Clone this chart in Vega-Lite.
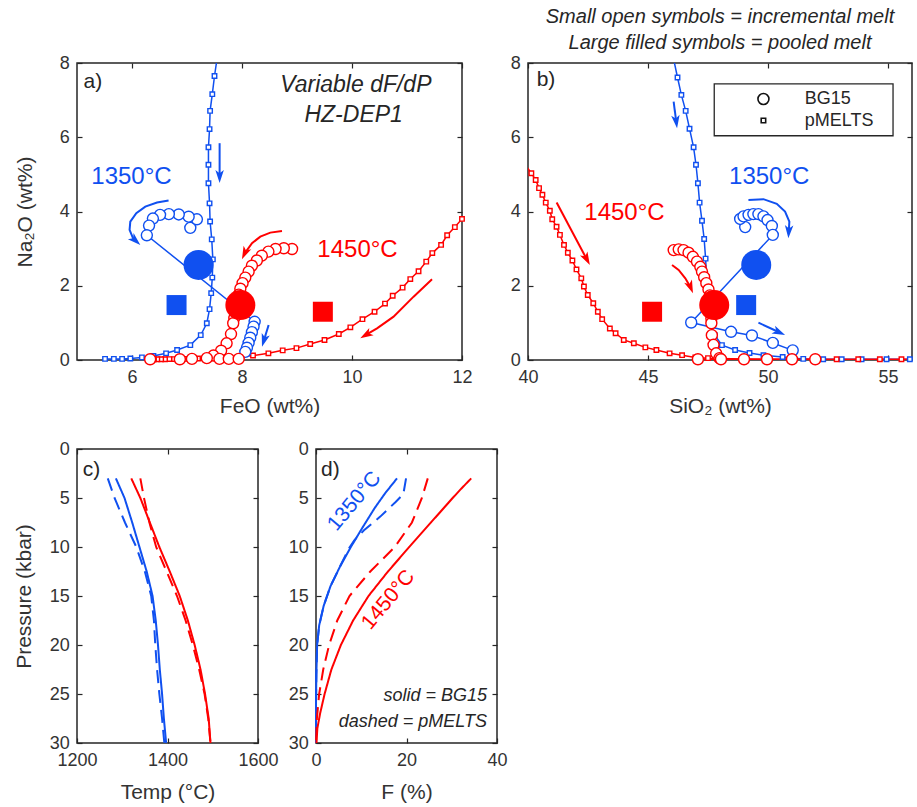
{
 "$schema": "https://vega.github.io/schema/vega-lite/v6.json",
 "padding": {"left": 12, "top": 6, "right": 4, "bottom": 4},
 "config": {
  "font": "Liberation Sans",
  "view": {"stroke": "#262626", "strokeWidth": 1.5},
  "axis": {"grid": false, "domain": false, "tickSize": -5, "tickWidth": 1.2, "tickColor": "#262626", "labelFontSize": 18, "labelColor": "#333333", "labelFlush": false, "labelOverlap": false, "titleFontSize": 21, "titleFontWeight": "normal", "titleColor": "#333333", "titleBaseline": "alphabetic"},
  "axisX": {"labelPadding": 13.5},
  "axisY": {"labelPadding": 12.7}
 },
 "datasets": {
  "inc_a": [
   {"T":"1350","model":"pMELTS","x":5.51,"y":0.03},{"T":"1350","model":"pMELTS","x":5.67,"y":0.03},{"T":"1350","model":"pMELTS","x":5.82,"y":0.03},{"T":"1350","model":"pMELTS","x":5.97,"y":0.04},{"T":"1350","model":"pMELTS","x":6.18,"y":0.07},{"T":"1350","model":"pMELTS","x":6.39,"y":0.11},{"T":"1350","model":"pMELTS","x":6.62,"y":0.18},{"T":"1350","model":"pMELTS","x":6.82,"y":0.27},{"T":"1350","model":"pMELTS","x":7.06,"y":0.40},{"T":"1350","model":"pMELTS","x":7.25,"y":0.67},{"T":"1350","model":"pMELTS","x":7.36,"y":0.99},{"T":"1350","model":"pMELTS","x":7.41,"y":1.37},{"T":"1350","model":"pMELTS","x":7.44,"y":1.80},{"T":"1350","model":"pMELTS","x":7.46,"y":2.22},{"T":"1350","model":"pMELTS","x":7.47,"y":2.71},{"T":"1350","model":"pMELTS","x":7.45,"y":3.25},{"T":"1350","model":"pMELTS","x":7.42,"y":3.73},{"T":"1350","model":"pMELTS","x":7.41,"y":4.22},{"T":"1350","model":"pMELTS","x":7.39,"y":4.76},{"T":"1350","model":"pMELTS","x":7.39,"y":5.26},{"T":"1350","model":"pMELTS","x":7.39,"y":5.73},{"T":"1350","model":"pMELTS","x":7.41,"y":6.22},{"T":"1350","model":"pMELTS","x":7.42,"y":6.71},{"T":"1350","model":"pMELTS","x":7.46,"y":7.16},{"T":"1350","model":"pMELTS","x":7.50,"y":7.65},{"T":"1350","model":"pMELTS","x":7.55,"y":8.15},
   {"T":"1450","model":"pMELTS","x":12.15,"y":4.05},{"T":"1450","model":"pMELTS","x":12.0,"y":3.80},{"T":"1450","model":"pMELTS","x":11.87,"y":3.58},{"T":"1450","model":"pMELTS","x":11.73,"y":3.36},{"T":"1450","model":"pMELTS","x":11.62,"y":3.10},{"T":"1450","model":"pMELTS","x":11.46,"y":2.88},{"T":"1450","model":"pMELTS","x":11.35,"y":2.65},{"T":"1450","model":"pMELTS","x":11.21,"y":2.39},{"T":"1450","model":"pMELTS","x":11.06,"y":2.18},{"T":"1450","model":"pMELTS","x":10.92,"y":1.95},{"T":"1450","model":"pMELTS","x":10.74,"y":1.73},{"T":"1450","model":"pMELTS","x":10.60,"y":1.52},{"T":"1450","model":"pMELTS","x":10.41,"y":1.30},{"T":"1450","model":"pMELTS","x":10.19,"y":1.10},{"T":"1450","model":"pMELTS","x":9.97,"y":0.88},{"T":"1450","model":"pMELTS","x":9.76,"y":0.70},{"T":"1450","model":"pMELTS","x":9.50,"y":0.54},{"T":"1450","model":"pMELTS","x":9.24,"y":0.43},{"T":"1450","model":"pMELTS","x":8.99,"y":0.32},{"T":"1450","model":"pMELTS","x":8.74,"y":0.26},{"T":"1450","model":"pMELTS","x":8.48,"y":0.18},{"T":"1450","model":"pMELTS","x":8.20,"y":0.12},{"T":"1450","model":"pMELTS","x":7.95,"y":0.09},{"T":"1450","model":"pMELTS","x":7.72,"y":0.07},{"T":"1450","model":"pMELTS","x":7.52,"y":0.06},{"T":"1450","model":"pMELTS","x":7.35,"y":0.05},{"T":"1450","model":"pMELTS","x":7.20,"y":0.04},{"T":"1450","model":"pMELTS","x":7.07,"y":0.035},{"T":"1450","model":"pMELTS","x":6.95,"y":0.03},{"T":"1450","model":"pMELTS","x":6.85,"y":0.03},{"T":"1450","model":"pMELTS","x":6.76,"y":0.025},{"T":"1450","model":"pMELTS","x":6.68,"y":0.025},{"T":"1450","model":"pMELTS","x":6.60,"y":0.02},{"T":"1450","model":"pMELTS","x":6.53,"y":0.02},{"T":"1450","model":"pMELTS","x":6.46,"y":0.02},{"T":"1450","model":"pMELTS","x":6.40,"y":0.02},{"T":"1450","model":"pMELTS","x":6.34,"y":0.02},
   {"T":"1350","model":"BG15","x":7.06,"y":3.56},{"T":"1350","model":"BG15","x":7.18,"y":3.79},{"T":"1350","model":"BG15","x":7.03,"y":3.86},{"T":"1350","model":"BG15","x":6.85,"y":3.92},{"T":"1350","model":"BG15","x":6.67,"y":3.93},{"T":"1350","model":"BG15","x":6.51,"y":3.91},{"T":"1350","model":"BG15","x":6.38,"y":3.81},{"T":"1350","model":"BG15","x":6.31,"y":3.62},{"T":"1350","model":"BG15","x":6.27,"y":3.36},{"T":"1350","model":"BG15","x":8.23,"y":1.03},{"T":"1350","model":"BG15","x":8.21,"y":0.90},{"T":"1350","model":"BG15","x":8.18,"y":0.75},{"T":"1350","model":"BG15","x":8.15,"y":0.60},{"T":"1350","model":"BG15","x":8.12,"y":0.46},{"T":"1350","model":"BG15","x":8.09,"y":0.33},{"T":"1350","model":"BG15","x":8.06,"y":0.22},
   {"T":"1450","model":"BG15","x":8.91,"y":2.99},{"T":"1450","model":"BG15","x":8.76,"y":3.01},{"T":"1450","model":"BG15","x":8.61,"y":2.99},{"T":"1450","model":"BG15","x":8.48,"y":2.92},{"T":"1450","model":"BG15","x":8.36,"y":2.81},{"T":"1450","model":"BG15","x":8.27,"y":2.68},{"T":"1450","model":"BG15","x":8.18,"y":2.54},{"T":"1450","model":"BG15","x":8.12,"y":2.38},{"T":"1450","model":"BG15","x":8.06,"y":2.22},{"T":"1450","model":"BG15","x":8.01,"y":2.07},{"T":"1450","model":"BG15","x":7.97,"y":1.92},{"T":"1450","model":"BG15","x":7.94,"y":1.76},{"T":"1450","model":"BG15","x":7.92,"y":1.60},{"T":"1450","model":"BG15","x":7.90,"y":1.44},{"T":"1450","model":"BG15","x":7.88,"y":1.28},{"T":"1450","model":"BG15","x":7.86,"y":1.13},{"T":"1450","model":"BG15","x":7.84,"y":0.99},{"T":"1450","model":"BG15","x":7.80,"y":0.70},{"T":"1450","model":"BG15","x":7.72,"y":0.45},{"T":"1450","model":"BG15","x":7.62,"y":0.25},{"T":"1450","model":"BG15","x":7.48,"y":0.12},{"T":"1450","model":"BG15","x":7.36,"y":0.05},{"T":"1450","model":"BG15","x":7.09,"y":0.03},{"T":"1450","model":"BG15","x":6.87,"y":0.02},{"T":"1450","model":"BG15","x":6.33,"y":0.02},{"T":"1450","model":"BG15","x":7.59,"y":0.03},{"T":"1450","model":"BG15","x":7.76,"y":0.03},{"T":"1450","model":"BG15","x":7.94,"y":0.03}
  ],
  "pool_a": [
   {"T":"1350","model":"BG15","x":7.21,"y":2.56},{"T":"1450","model":"BG15","x":7.97,"y":1.48},{"T":"1350","model":"pMELTS","x":6.81,"y":1.48},{"T":"1450","model":"pMELTS","x":9.47,"y":1.30}
  ],
  "arr_a": [
   {"id":"a1","T":"1350","x":7.593,"y":5.84},{"id":"a1","T":"1350","x":7.593,"y":4.94},
   {"id":"a2","T":"1350","x":6.665,"y":4.294},{"id":"a2","T":"1350","x":6.455,"y":4.240},{"id":"a2","T":"1350","x":6.242,"y":4.132},{"id":"a2","T":"1350","x":6.078,"y":3.954},{"id":"a2","T":"1350","x":5.969,"y":3.728},{"id":"a2","T":"1350","x":5.956,"y":3.504},{"id":"a2","T":"1350","x":6.018,"y":3.280},{"id":"a2","T":"1350","x":6.064,"y":3.218},
   {"id":"a3","T":"1350","x":8.484,"y":0.943},{"id":"a3","T":"1350","x":8.398,"y":0.526},
   {"id":"a4","T":"1450","x":8.727,"y":3.477},{"id":"a4","T":"1450","x":8.515,"y":3.431},{"id":"a4","T":"1450","x":8.333,"y":3.323},{"id":"a4","T":"1450","x":8.182,"y":3.146},{"id":"a4","T":"1450","x":8.049,"y":2.873},
   {"id":"a5","T":"1450","x":11.455,"y":2.175},{"id":"a5","T":"1450","x":11.12,"y":1.706},{"id":"a5","T":"1450","x":10.756,"y":1.167},{"id":"a5","T":"1450","x":10.455,"y":0.854},{"id":"a5","T":"1450","x":10.252,"y":0.674}
  ],
  "head_a": [
   {"T":"1350","x":7.593,"y":4.94,"angle":180},{"T":"1350","x":6.064,"y":3.218,"angle":132.5},{"T":"1350","x":8.398,"y":0.526,"angle":196.9},{"T":"1450","x":8.049,"y":2.873,"angle":204.8},{"T":"1450","x":10.252,"y":0.674,"angle":239.1}
  ],
  "lab_a": [
   {"T":"1350","x":5.99,"y":4.94,"text":"1350°C"},{"T":"1450","x":10.1,"y":2.96,"text":"1450°C"}
  ],
  "inc_b": [
   {"T":"1350","model":"pMELTS","x":46.02,"y":8.25},{"T":"1350","model":"pMELTS","x":46.23,"y":7.61},{"T":"1350","model":"pMELTS","x":46.39,"y":7.14},{"T":"1350","model":"pMELTS","x":46.57,"y":6.71},{"T":"1350","model":"pMELTS","x":46.73,"y":6.23},{"T":"1350","model":"pMELTS","x":46.90,"y":5.73},{"T":"1350","model":"pMELTS","x":47.00,"y":5.26},{"T":"1350","model":"pMELTS","x":47.08,"y":4.76},{"T":"1350","model":"pMELTS","x":47.15,"y":4.24},{"T":"1350","model":"pMELTS","x":47.25,"y":3.75},{"T":"1350","model":"pMELTS","x":47.34,"y":3.26},{"T":"1350","model":"pMELTS","x":47.40,"y":2.73},{"T":"1350","model":"pMELTS","x":47.44,"y":2.24},{"T":"1350","model":"pMELTS","x":47.48,"y":1.80},{"T":"1350","model":"pMELTS","x":47.53,"y":1.37},{"T":"1350","model":"pMELTS","x":47.62,"y":0.99},{"T":"1350","model":"pMELTS","x":47.78,"y":0.67},{"T":"1350","model":"pMELTS","x":48.08,"y":0.40},{"T":"1350","model":"pMELTS","x":48.63,"y":0.27},{"T":"1350","model":"pMELTS","x":49.23,"y":0.19},{"T":"1350","model":"pMELTS","x":49.81,"y":0.13},{"T":"1350","model":"pMELTS","x":50.61,"y":0.08},{"T":"1350","model":"pMELTS","x":51.47,"y":0.03},{"T":"1350","model":"pMELTS","x":52.30,"y":0.02},{"T":"1350","model":"pMELTS","x":53.07,"y":0.02},{"T":"1350","model":"pMELTS","x":53.90,"y":0.02},{"T":"1350","model":"pMELTS","x":54.94,"y":0.02},{"T":"1350","model":"pMELTS","x":55.91,"y":0.02},
   {"T":"1450","model":"pMELTS","x":39.9,"y":5.25},{"T":"1450","model":"pMELTS","x":40.14,"y":5.03},{"T":"1450","model":"pMELTS","x":40.32,"y":4.85},{"T":"1450","model":"pMELTS","x":40.46,"y":4.63},{"T":"1450","model":"pMELTS","x":40.60,"y":4.45},{"T":"1450","model":"pMELTS","x":40.74,"y":4.24},{"T":"1450","model":"pMELTS","x":40.91,"y":4.02},{"T":"1450","model":"pMELTS","x":41.01,"y":3.79},{"T":"1450","model":"pMELTS","x":41.19,"y":3.59},{"T":"1450","model":"pMELTS","x":41.33,"y":3.37},{"T":"1450","model":"pMELTS","x":41.50,"y":3.10},{"T":"1450","model":"pMELTS","x":41.66,"y":2.89},{"T":"1450","model":"pMELTS","x":41.85,"y":2.68},{"T":"1450","model":"pMELTS","x":42.02,"y":2.44},{"T":"1450","model":"pMELTS","x":42.22,"y":2.20},{"T":"1450","model":"pMELTS","x":42.33,"y":1.98},{"T":"1450","model":"pMELTS","x":42.49,"y":1.75},{"T":"1450","model":"pMELTS","x":42.72,"y":1.53},{"T":"1450","model":"pMELTS","x":42.91,"y":1.30},{"T":"1450","model":"pMELTS","x":43.09,"y":1.10},{"T":"1450","model":"pMELTS","x":43.41,"y":0.85},{"T":"1450","model":"pMELTS","x":43.65,"y":0.72},{"T":"1450","model":"pMELTS","x":43.99,"y":0.54},{"T":"1450","model":"pMELTS","x":44.41,"y":0.45},{"T":"1450","model":"pMELTS","x":44.89,"y":0.34},{"T":"1450","model":"pMELTS","x":45.35,"y":0.27},{"T":"1450","model":"pMELTS","x":45.90,"y":0.18},{"T":"1450","model":"pMELTS","x":46.42,"y":0.13},{"T":"1450","model":"pMELTS","x":46.97,"y":0.07},{"T":"1450","model":"pMELTS","x":47.50,"y":0.05},{"T":"1450","model":"pMELTS","x":48.00,"y":0.04},{"T":"1450","model":"pMELTS","x":48.98,"y":0.03},{"T":"1450","model":"pMELTS","x":49.95,"y":0.02},{"T":"1450","model":"pMELTS","x":50.92,"y":0.02},{"T":"1450","model":"pMELTS","x":51.89,"y":0.02},{"T":"1450","model":"pMELTS","x":52.86,"y":0.02},{"T":"1450","model":"pMELTS","x":53.76,"y":0.02},{"T":"1450","model":"pMELTS","x":54.66,"y":0.02},{"T":"1450","model":"pMELTS","x":55.56,"y":0.02},{"T":"1450","model":"pMELTS","x":56.4,"y":0.02},
   {"T":"1350","model":"BG15","x":49.05,"y":3.58},{"T":"1350","model":"BG15","x":48.84,"y":3.80},{"T":"1350","model":"BG15","x":48.98,"y":3.87},{"T":"1350","model":"BG15","x":49.19,"y":3.91},{"T":"1350","model":"BG15","x":49.39,"y":3.93},{"T":"1350","model":"BG15","x":49.60,"y":3.93},{"T":"1350","model":"BG15","x":49.81,"y":3.87},{"T":"1350","model":"BG15","x":49.98,"y":3.77},{"T":"1350","model":"BG15","x":50.16,"y":3.61},{"T":"1350","model":"BG15","x":50.20,"y":3.37},{"T":"1350","model":"BG15","x":46.80,"y":1.01},{"T":"1350","model":"BG15","x":48.46,"y":0.76},{"T":"1350","model":"BG15","x":49.33,"y":0.66},{"T":"1350","model":"BG15","x":50.20,"y":0.46},{"T":"1350","model":"BG15","x":51.03,"y":0.26},
   {"T":"1450","model":"BG15","x":46.07,"y":2.96},{"T":"1450","model":"BG15","x":46.28,"y":2.98},{"T":"1450","model":"BG15","x":46.48,"y":2.96},{"T":"1450","model":"BG15","x":46.69,"y":2.89},{"T":"1450","model":"BG15","x":46.87,"y":2.78},{"T":"1450","model":"BG15","x":47.04,"y":2.65},{"T":"1450","model":"BG15","x":47.18,"y":2.51},{"T":"1450","model":"BG15","x":47.25,"y":2.38},{"T":"1450","model":"BG15","x":47.34,"y":2.23},{"T":"1450","model":"BG15","x":47.43,"y":2.07},{"T":"1450","model":"BG15","x":47.52,"y":1.90},{"T":"1450","model":"BG15","x":47.58,"y":1.74},{"T":"1450","model":"BG15","x":47.62,"y":1.58},{"T":"1450","model":"BG15","x":47.64,"y":1.42},{"T":"1450","model":"BG15","x":47.64,"y":1.27},{"T":"1450","model":"BG15","x":47.64,"y":1.12},{"T":"1450","model":"BG15","x":47.64,"y":0.99},{"T":"1450","model":"BG15","x":47.66,"y":0.67},{"T":"1450","model":"BG15","x":47.73,"y":0.41},{"T":"1450","model":"BG15","x":47.84,"y":0.18},{"T":"1450","model":"BG15","x":47.98,"y":0.05},{"T":"1450","model":"BG15","x":48.04,"y":0.02},{"T":"1450","model":"BG15","x":49.00,"y":0.02},{"T":"1450","model":"BG15","x":49.96,"y":0.02},{"T":"1450","model":"BG15","x":51.00,"y":0.02},{"T":"1450","model":"BG15","x":51.97,"y":0.02},{"T":"1450","model":"BG15","x":47.08,"y":0.02}
  ],
  "pool_b": [
   {"T":"1350","model":"BG15","x":49.51,"y":2.56},{"T":"1450","model":"BG15","x":47.76,"y":1.48},{"T":"1350","model":"pMELTS","x":49.09,"y":1.48},{"T":"1450","model":"pMELTS","x":45.17,"y":1.30}
  ],
  "arr_b": [
   {"id":"b1","T":"1350","x":46.068,"y":6.962},{"id":"b1","T":"1350","x":46.176,"y":6.418},
   {"id":"b2","T":"1450","x":41.193,"y":4.240},{"id":"b2","T":"1450","x":42.449,"y":2.714},
   {"id":"b3","T":"1350","x":49.185,"y":4.313},{"id":"b3","T":"1350","x":49.809,"y":4.332},{"id":"b3","T":"1350","x":50.366,"y":4.205},{"id":"b3","T":"1350","x":50.711,"y":3.997},{"id":"b3","T":"1350","x":50.89,"y":3.728},{"id":"b3","T":"1350","x":50.864,"y":3.455},
   {"id":"b4","T":"1450","x":46.002,"y":2.561},{"id":"b4","T":"1450","x":46.276,"y":2.426},{"id":"b4","T":"1450","x":46.555,"y":2.202},{"id":"b4","T":"1450","x":46.771,"y":1.960},
   {"id":"b5","T":"1350","x":49.601,"y":1.005},{"id":"b5","T":"1350","x":50.466,"y":0.747}
  ],
  "head_b": [
   {"T":"1350","x":46.176,"y":6.418,"angle":172.7},{"T":"1450","x":42.449,"y":2.714,"angle":151.8},{"T":"1350","x":50.864,"y":3.455,"angle":183.4},{"T":"1450","x":46.771,"y":1.960,"angle":157.7},{"T":"1350","x":50.466,"y":0.747,"angle":114.7}
  ],
  "lab_b": [
   {"T":"1350","x":50.05,"y":4.94,"text":"1350°C"},{"T":"1450","x":44.02,"y":3.95,"text":"1450°C"}
  ],
  "leg_b": [
   {"model":"BG15","x":49.81,"y":7.03,"tx":51.53},{"model":"pMELTS","x":49.81,"y":6.45,"tx":51.53}
  ],
  "pt_c": [
   {"T":"1350","model":"BG15","temp":1286,"P":3},{"T":"1350","model":"BG15","temp":1305,"P":5},{"T":"1350","model":"BG15","temp":1322,"P":7.5},{"T":"1350","model":"BG15","temp":1338,"P":10},{"T":"1350","model":"BG15","temp":1354,"P":12.5},{"T":"1350","model":"BG15","temp":1367,"P":15},{"T":"1350","model":"BG15","temp":1374,"P":17.5},{"T":"1350","model":"BG15","temp":1379,"P":20},{"T":"1350","model":"BG15","temp":1383,"P":22.5},{"T":"1350","model":"BG15","temp":1388,"P":25},{"T":"1350","model":"BG15","temp":1392,"P":27.5},{"T":"1350","model":"BG15","temp":1397,"P":30},
   {"T":"1350","model":"pMELTS","temp":1268,"P":3},{"T":"1350","model":"pMELTS","temp":1283,"P":5},{"T":"1350","model":"pMELTS","temp":1306,"P":7.5},{"T":"1350","model":"pMELTS","temp":1331,"P":10},{"T":"1350","model":"pMELTS","temp":1350,"P":12.5},{"T":"1350","model":"pMELTS","temp":1364,"P":15},{"T":"1350","model":"pMELTS","temp":1370,"P":17.5},{"T":"1350","model":"pMELTS","temp":1373,"P":20},{"T":"1350","model":"pMELTS","temp":1377,"P":22.5},{"T":"1350","model":"pMELTS","temp":1382,"P":25},{"T":"1350","model":"pMELTS","temp":1388,"P":27.5},{"T":"1350","model":"pMELTS","temp":1393,"P":30},
   {"T":"1450","model":"BG15","temp":1320,"P":3},{"T":"1450","model":"BG15","temp":1340,"P":5},{"T":"1450","model":"BG15","temp":1361,"P":7.5},{"T":"1450","model":"BG15","temp":1382,"P":10},{"T":"1450","model":"BG15","temp":1405,"P":12.5},{"T":"1450","model":"BG15","temp":1427,"P":15},{"T":"1450","model":"BG15","temp":1445,"P":17.5},{"T":"1450","model":"BG15","temp":1460,"P":20},{"T":"1450","model":"BG15","temp":1473,"P":22.5},{"T":"1450","model":"BG15","temp":1483,"P":25},{"T":"1450","model":"BG15","temp":1491,"P":27.5},{"T":"1450","model":"BG15","temp":1495,"P":30},
   {"T":"1450","model":"pMELTS","temp":1340,"P":3},{"T":"1450","model":"pMELTS","temp":1348,"P":5},{"T":"1450","model":"pMELTS","temp":1360,"P":7.5},{"T":"1450","model":"pMELTS","temp":1375,"P":10},{"T":"1450","model":"pMELTS","temp":1398,"P":12.5},{"T":"1450","model":"pMELTS","temp":1421,"P":15},{"T":"1450","model":"pMELTS","temp":1440,"P":17.5},{"T":"1450","model":"pMELTS","temp":1456,"P":20},{"T":"1450","model":"pMELTS","temp":1470,"P":22.5},{"T":"1450","model":"pMELTS","temp":1482,"P":25},{"T":"1450","model":"pMELTS","temp":1490,"P":27.5},{"T":"1450","model":"pMELTS","temp":1495,"P":30}
  ],
  "fp_d": [
   {"T":"1350","model":"BG15","F":17.9,"P":3},{"T":"1350","model":"BG15","F":15.3,"P":4.5},{"T":"1350","model":"BG15","F":13.0,"P":6},{"T":"1350","model":"BG15","F":10.3,"P":8},{"T":"1350","model":"BG15","F":7.7,"P":10},{"T":"1350","model":"BG15","F":5.3,"P":12},{"T":"1350","model":"BG15","F":3.2,"P":14},{"T":"1350","model":"BG15","F":1.7,"P":16},{"T":"1350","model":"BG15","F":0.7,"P":18},{"T":"1350","model":"BG15","F":0.25,"P":20},{"T":"1350","model":"BG15","F":0.08,"P":23},{"T":"1350","model":"BG15","F":0,"P":26},{"T":"1350","model":"BG15","F":0,"P":30},
   {"T":"1350","model":"pMELTS","F":19.9,"P":3},{"T":"1350","model":"pMELTS","F":19.3,"P":4.6},{"T":"1350","model":"pMELTS","F":17.6,"P":5.4},{"T":"1350","model":"pMELTS","F":14.2,"P":6.9},{"T":"1350","model":"pMELTS","F":10.6,"P":8.3},{"T":"1350","model":"pMELTS","F":8.5,"P":9.3},{"T":"1350","model":"pMELTS","F":7.2,"P":10.2},{"T":"1350","model":"pMELTS","F":5.3,"P":12},{"T":"1350","model":"pMELTS","F":3.2,"P":14},{"T":"1350","model":"pMELTS","F":1.7,"P":16},{"T":"1350","model":"pMELTS","F":0.7,"P":18},{"T":"1350","model":"pMELTS","F":0.25,"P":20},{"T":"1350","model":"pMELTS","F":0.08,"P":23},{"T":"1350","model":"pMELTS","F":0,"P":26},{"T":"1350","model":"pMELTS","F":0,"P":30},
   {"T":"1450","model":"BG15","F":34.3,"P":3},{"T":"1450","model":"BG15","F":32.2,"P":4},{"T":"1450","model":"BG15","F":30.2,"P":5},{"T":"1450","model":"BG15","F":25.4,"P":7.5},{"T":"1450","model":"BG15","F":20.6,"P":10},{"T":"1450","model":"BG15","F":15.9,"P":12.5},{"T":"1450","model":"BG15","F":11.6,"P":15},{"T":"1450","model":"BG15","F":8.2,"P":17.5},{"T":"1450","model":"BG15","F":5.5,"P":20},{"T":"1450","model":"BG15","F":3.4,"P":22.5},{"T":"1450","model":"BG15","F":1.9,"P":25},{"T":"1450","model":"BG15","F":0.9,"P":27},{"T":"1450","model":"BG15","F":0.3,"P":28.5},{"T":"1450","model":"BG15","F":0.1,"P":30},
   {"T":"1450","model":"pMELTS","F":24.7,"P":3},{"T":"1450","model":"pMELTS","F":23.4,"P":5},{"T":"1450","model":"pMELTS","F":21.2,"P":7.5},{"T":"1450","model":"pMELTS","F":17.4,"P":10},{"T":"1450","model":"pMELTS","F":12.0,"P":12.5},{"T":"1450","model":"pMELTS","F":7.4,"P":15},{"T":"1450","model":"pMELTS","F":4.7,"P":17.5},{"T":"1450","model":"pMELTS","F":2.9,"P":20},{"T":"1450","model":"pMELTS","F":1.6,"P":22.5},{"T":"1450","model":"pMELTS","F":0.7,"P":25},{"T":"1450","model":"pMELTS","F":0.2,"P":27.5},{"T":"1450","model":"pMELTS","F":0,"P":30}
  ],
  "lab_d": [
   {"T":"1350","F":8.5,"P":5.34,"text":"1350°C"},{"T":"1450","F":16.0,"P":15.4,"text":"1450°C"}
  ]
 },
 "vconcat": [
  {
   "hconcat": [
    {
     "width": 385, "height": 297,
     "encoding": {
      "x": {"field": "x", "type": "quantitative", "scale": {"domain": [5, 12], "nice": false, "zero": false}, "axis": null},
      "y": {"field": "y", "type": "quantitative", "scale": {"domain": [0, 8], "nice": false, "zero": false}, "axis": null}
     },
     "layer": [
      {
       "data": {"name": "inc_a"},
       "transform": [{"filter": "datum.model === 'pMELTS'"}],
       "mark": {"type": "line", "strokeWidth": 1.5, "clip": true},
       "encoding": {
        "x": {"field": "x", "type": "quantitative", "scale": {"domain": [5, 12], "nice": false, "zero": false}, "axis": {"values": [6, 8, 10, 12], "title": "FeO (wt%)", "titleY": 52}},
        "y": {"field": "y", "type": "quantitative", "scale": {"domain": [0, 8], "nice": false, "zero": false}, "axis": {"values": [0, 2, 4, 6, 8], "title": "Na₂O (wt%)", "titleX": -46, "titleY": 148.5}},
        "stroke": {"field": "T", "type": "nominal", "scale": {"domain": ["1350", "1450"], "range": ["#1050f0", "#ff0000"]}, "legend": null},
        "order": {"value": null}
       }
      },
      {
       "data": {"name": "inc_a"},
       "transform": [{"filter": "datum.model === 'BG15'"}],
       "mark": {"type": "line", "strokeWidth": 1.5, "clip": true},
       "encoding": {
        "stroke": {"field": "T", "type": "nominal", "scale": {"domain": ["1350", "1450"], "range": ["#1050f0", "#ff0000"]}, "legend": null},
        "order": {"value": null}
       }
      },
      {
       "data": {"name": "inc_a"},
       "transform": [{"filter": "datum.x >= 5 && datum.x <= 12 && datum.y <= 8"}],
       "mark": {"type": "point", "filled": true, "fill": "white", "strokeWidth": 1.4, "opacity": 1},
       "encoding": {
        "shape": {"field": "model", "type": "nominal", "scale": {"domain": ["BG15", "pMELTS"], "range": ["circle", "square"]}, "legend": null},
        "size": {"field": "model", "type": "nominal", "scale": {"type": "point", "domain": ["BG15", "pMELTS"], "range": [121, 20], "padding": 0}, "legend": null},
        "stroke": {"field": "T", "type": "nominal", "scale": {"domain": ["1350", "1450"], "range": ["#1050f0", "#ff0000"]}, "legend": null}
       }
      },
      {
       "data": {"name": "pool_a"},
       "transform": [{"filter": "datum.model === 'BG15'"}],
       "mark": {"type": "point", "shape": "circle", "filled": true, "size": 900, "opacity": 1},
       "encoding": {
        "x": {"field": "x", "type": "quantitative", "scale": {"domain": [5, 12], "nice": false, "zero": false}, "axis": {"orient": "top", "values": [6, 8, 10, 12], "labels": false, "title": null}},
        "y": {"field": "y", "type": "quantitative", "scale": {"domain": [0, 8], "nice": false, "zero": false}, "axis": {"orient": "right", "values": [0, 2, 4, 6, 8], "labels": false, "title": null}},
        "color": {"field": "T", "type": "nominal", "scale": {"domain": ["1350", "1450"], "range": ["#1050f0", "#ff0000"]}, "legend": null}
       }
      },
      {
       "data": {"name": "pool_a"},
       "transform": [{"filter": "datum.model === 'pMELTS'"}],
       "mark": {"type": "point", "shape": "square", "filled": true, "size": 400, "opacity": 1},
       "encoding": {
        "color": {"field": "T", "type": "nominal", "scale": {"domain": ["1350", "1450"], "range": ["#1050f0", "#ff0000"]}, "legend": null}
       }
      },
      {
       "data": {"name": "arr_a"},
       "mark": {"type": "line", "strokeWidth": 2},
       "encoding": {
        "detail": {"field": "id", "type": "nominal"},
        "stroke": {"field": "T", "type": "nominal", "scale": {"domain": ["1350", "1450"], "range": ["#1050f0", "#ff0000"]}, "legend": null},
        "order": {"value": null}
       }
      },
      {
       "data": {"name": "head_a"},
       "mark": {"type": "point", "shape": "M0,-1L0.65,1L0,0.5L-0.65,1Z", "filled": true, "size": 170, "opacity": 1},
       "encoding": {
        "angle": {"field": "angle", "type": "quantitative", "scale": null},
        "color": {"field": "T", "type": "nominal", "scale": {"domain": ["1350", "1450"], "range": ["#1050f0", "#ff0000"]}, "legend": null}
       }
      },
      {
       "data": {"name": "lab_a"},
       "mark": {"type": "text", "fontSize": 24, "align": "center", "baseline": "middle"},
       "encoding": {
        "text": {"field": "text"},
        "color": {"field": "T", "type": "nominal", "scale": {"domain": ["1350", "1450"], "range": ["#1050f0", "#ff0000"]}, "legend": null}
       }
      },
      {
       "data": {"values": [{"x": 5.12, "y": 7.49, "text": "a)"}]},
       "mark": {"type": "text", "fontSize": 21, "align": "left", "baseline": "middle", "color": "#262626"},
       "encoding": {"text": {"field": "text"}}
      },
      {
       "data": {"values": [{"x": 10.07, "y": 7.41, "text": "Variable dF/dP"}, {"x": 10.03, "y": 6.6, "text": "HZ-DEP1"}]},
       "mark": {"type": "text", "fontSize": 23, "fontStyle": "italic", "align": "center", "baseline": "middle", "color": "#262626"},
       "encoding": {"text": {"field": "text"}}
      }
     ],
     "resolve": {"axis": {"x": "independent", "y": "independent"}}
    },
    {
     "width": 384, "height": 297,
     "title": {"text": ["Small open symbols = incremental melt", "Large filled symbols = pooled melt"], "fontSize": 20, "fontStyle": "italic", "fontWeight": "normal", "anchor": "middle", "offset": 1, "lineHeight": 26, "color": "#262626"},
     "encoding": {
      "x": {"field": "x", "type": "quantitative", "scale": {"domain": [40, 56], "nice": false, "zero": false}, "axis": null},
      "y": {"field": "y", "type": "quantitative", "scale": {"domain": [0, 8], "nice": false, "zero": false}, "axis": null}
     },
     "layer": [
      {
       "data": {"name": "inc_b"},
       "transform": [{"filter": "datum.model === 'pMELTS'"}],
       "mark": {"type": "line", "strokeWidth": 1.5, "clip": true},
       "encoding": {
        "x": {"field": "x", "type": "quantitative", "scale": {"domain": [40, 56], "nice": false, "zero": false}, "axis": {"values": [40, 45, 50, 55], "title": "SiO₂ (wt%)", "titleY": 52}},
        "y": {"field": "y", "type": "quantitative", "scale": {"domain": [0, 8], "nice": false, "zero": false}, "axis": {"values": [0, 2, 4, 6, 8], "title": null}},
        "stroke": {"field": "T", "type": "nominal", "scale": {"domain": ["1350", "1450"], "range": ["#1050f0", "#ff0000"]}, "legend": null},
        "order": {"value": null}
       }
      },
      {
       "data": {"name": "inc_b"},
       "transform": [{"filter": "datum.model === 'BG15'"}],
       "mark": {"type": "line", "strokeWidth": 1.5, "clip": true},
       "encoding": {
        "stroke": {"field": "T", "type": "nominal", "scale": {"domain": ["1350", "1450"], "range": ["#1050f0", "#ff0000"]}, "legend": null},
        "order": {"value": null}
       }
      },
      {
       "data": {"name": "inc_b"},
       "transform": [{"filter": "datum.x >= 40 && datum.x <= 56 && datum.y <= 8"}],
       "mark": {"type": "point", "filled": true, "fill": "white", "strokeWidth": 1.4, "opacity": 1},
       "encoding": {
        "shape": {"field": "model", "type": "nominal", "scale": {"domain": ["BG15", "pMELTS"], "range": ["circle", "square"]}, "legend": null},
        "size": {"field": "model", "type": "nominal", "scale": {"type": "point", "domain": ["BG15", "pMELTS"], "range": [121, 20], "padding": 0}, "legend": null},
        "stroke": {"field": "T", "type": "nominal", "scale": {"domain": ["1350", "1450"], "range": ["#1050f0", "#ff0000"]}, "legend": null}
       }
      },
      {
       "data": {"name": "pool_b"},
       "transform": [{"filter": "datum.model === 'BG15'"}],
       "mark": {"type": "point", "shape": "circle", "filled": true, "size": 900, "opacity": 1},
       "encoding": {
        "x": {"field": "x", "type": "quantitative", "scale": {"domain": [40, 56], "nice": false, "zero": false}, "axis": {"orient": "top", "values": [40, 45, 50, 55], "labels": false, "title": null}},
        "y": {"field": "y", "type": "quantitative", "scale": {"domain": [0, 8], "nice": false, "zero": false}, "axis": {"orient": "right", "values": [0, 2, 4, 6, 8], "labels": false, "title": null}},
        "color": {"field": "T", "type": "nominal", "scale": {"domain": ["1350", "1450"], "range": ["#1050f0", "#ff0000"]}, "legend": null}
       }
      },
      {
       "data": {"name": "pool_b"},
       "transform": [{"filter": "datum.model === 'pMELTS'"}],
       "mark": {"type": "point", "shape": "square", "filled": true, "size": 400, "opacity": 1},
       "encoding": {
        "color": {"field": "T", "type": "nominal", "scale": {"domain": ["1350", "1450"], "range": ["#1050f0", "#ff0000"]}, "legend": null}
       }
      },
      {
       "data": {"name": "arr_b"},
       "mark": {"type": "line", "strokeWidth": 2},
       "encoding": {
        "detail": {"field": "id", "type": "nominal"},
        "stroke": {"field": "T", "type": "nominal", "scale": {"domain": ["1350", "1450"], "range": ["#1050f0", "#ff0000"]}, "legend": null},
        "order": {"value": null}
       }
      },
      {
       "data": {"name": "head_b"},
       "mark": {"type": "point", "shape": "M0,-1L0.65,1L0,0.5L-0.65,1Z", "filled": true, "size": 170, "opacity": 1},
       "encoding": {
        "angle": {"field": "angle", "type": "quantitative", "scale": null},
        "color": {"field": "T", "type": "nominal", "scale": {"domain": ["1350", "1450"], "range": ["#1050f0", "#ff0000"]}, "legend": null}
       }
      },
      {
       "data": {"name": "lab_b"},
       "mark": {"type": "text", "fontSize": 24, "align": "center", "baseline": "middle"},
       "encoding": {
        "text": {"field": "text"},
        "color": {"field": "T", "type": "nominal", "scale": {"domain": ["1350", "1450"], "range": ["#1050f0", "#ff0000"]}, "legend": null}
       }
      },
      {
       "data": {"values": [{"x": 40.36, "y": 7.53, "text": "b)"}]},
       "mark": {"type": "text", "fontSize": 21, "align": "left", "baseline": "middle", "color": "#262626"},
       "encoding": {"text": {"field": "text"}}
      },
      {
       "data": {"values": [{"x": 47.76, "x2": 55.21, "y": 6.04, "y2": 7.44}]},
       "mark": {"type": "rect", "fill": "white", "stroke": "#262626", "strokeWidth": 1.3},
       "encoding": {"x2": {"field": "x2"}, "y2": {"field": "y2"}}
      },
      {
       "data": {"name": "leg_b"},
       "mark": {"type": "point", "filled": true, "fill": "white", "stroke": "#111111", "strokeWidth": 1.6, "opacity": 1},
       "encoding": {
        "shape": {"field": "model", "type": "nominal", "scale": {"domain": ["BG15", "pMELTS"], "range": ["circle", "square"]}, "legend": null},
        "size": {"field": "model", "type": "nominal", "scale": {"type": "point", "domain": ["BG15", "pMELTS"], "range": [121, 20], "padding": 0}, "legend": null}
       }
      },
      {
       "data": {"name": "leg_b"},
       "mark": {"type": "text", "fontSize": 18, "align": "left", "baseline": "middle", "color": "#262626"},
       "encoding": {"x": {"field": "tx", "type": "quantitative", "scale": {"domain": [40, 56], "nice": false, "zero": false}, "axis": null}, "text": {"field": "model"}}
      }
     ],
     "resolve": {"axis": {"x": "independent", "y": "independent"}}
    }
   ],
   "spacing": 66,
   "bounds": "flush"
  },
  {
   "hconcat": [
    {
     "width": 181, "height": 294,
     "encoding": {
      "x": {"field": "temp", "type": "quantitative", "scale": {"domain": [1200, 1600], "nice": false, "zero": false}, "axis": null},
      "y": {"field": "P", "type": "quantitative", "scale": {"domain": [0, 30], "nice": false, "zero": false, "reverse": true}, "axis": null}
     },
     "layer": [
      {
       "data": {"name": "pt_c"},
       "mark": {"type": "line", "strokeWidth": 2},
       "encoding": {
        "x": {"field": "temp", "type": "quantitative", "scale": {"domain": [1200, 1600], "nice": false, "zero": false}, "axis": {"values": [1200, 1400, 1600], "format": "d", "title": "Temp (°C)", "titleY": 55}},
        "y": {"field": "P", "type": "quantitative", "scale": {"domain": [0, 30], "nice": false, "zero": false, "reverse": true}, "axis": {"values": [0, 5, 10, 15, 20, 25, 30], "title": "Pressure (kbar)", "titleX": -47, "titleY": 147}},
        "stroke": {"field": "T", "type": "nominal", "scale": {"domain": ["1350", "1450"], "range": ["#1050f0", "#ff0000"]}, "legend": null},
        "strokeDash": {"field": "model", "type": "nominal", "scale": {"domain": ["BG15", "pMELTS"], "range": [[1, 0], [13, 7]]}, "legend": null},
        "order": {"value": null}
       }
      },
      {
       "data": {"values": [{"temp": 1212.6, "P": 2.17, "text": "c)"}]},
       "mark": {"type": "text", "fontSize": 21, "align": "left", "baseline": "middle", "color": "#262626"},
       "encoding": {
        "x": {"field": "temp", "type": "quantitative", "scale": {"domain": [1200, 1600], "nice": false, "zero": false}, "axis": {"orient": "top", "values": [1200, 1400, 1600], "labels": false, "title": null}},
        "y": {"field": "P", "type": "quantitative", "scale": {"domain": [0, 30], "nice": false, "zero": false, "reverse": true}, "axis": {"orient": "right", "values": [0, 5, 10, 15, 20, 25, 30], "labels": false, "title": null}},
        "text": {"field": "text"}
       }
      }
     ],
     "resolve": {"axis": {"x": "independent", "y": "independent"}}
    },
    {
     "width": 181, "height": 294,
     "encoding": {
      "x": {"field": "F", "type": "quantitative", "scale": {"domain": [0, 40], "nice": false, "zero": false}, "axis": null},
      "y": {"field": "P", "type": "quantitative", "scale": {"domain": [0, 30], "nice": false, "zero": false, "reverse": true}, "axis": null}
     },
     "layer": [
      {
       "data": {"name": "fp_d"},
       "mark": {"type": "line", "strokeWidth": 2},
       "encoding": {
        "x": {"field": "F", "type": "quantitative", "scale": {"domain": [0, 40], "nice": false, "zero": false}, "axis": {"values": [0, 20, 40], "title": "F (%)", "titleY": 55}},
        "y": {"field": "P", "type": "quantitative", "scale": {"domain": [0, 30], "nice": false, "zero": false, "reverse": true}, "axis": {"values": [0, 5, 10, 15, 20, 25, 30], "title": null}},
        "stroke": {"field": "T", "type": "nominal", "scale": {"domain": ["1350", "1450"], "range": ["#1050f0", "#ff0000"]}, "legend": null},
        "strokeDash": {"field": "model", "type": "nominal", "scale": {"domain": ["BG15", "pMELTS"], "range": [[1, 0], [13, 7]]}, "legend": null},
        "order": {"value": null}
       }
      },
      {
       "data": {"values": [{"F": 1.1, "P": 2.17, "text": "d)"}]},
       "mark": {"type": "text", "fontSize": 21, "align": "left", "baseline": "middle", "color": "#262626"},
       "encoding": {
        "x": {"field": "F", "type": "quantitative", "scale": {"domain": [0, 40], "nice": false, "zero": false}, "axis": {"orient": "top", "values": [0, 20, 40], "labels": false, "title": null}},
        "y": {"field": "P", "type": "quantitative", "scale": {"domain": [0, 30], "nice": false, "zero": false, "reverse": true}, "axis": {"orient": "right", "values": [0, 5, 10, 15, 20, 25, 30], "labels": false, "title": null}},
        "text": {"field": "text"}
       }
      },
      {
       "data": {"name": "lab_d"},
       "mark": {"type": "text", "fontSize": 21, "align": "center", "baseline": "middle", "angle": -50},
       "encoding": {
        "text": {"field": "text"},
        "color": {"field": "T", "type": "nominal", "scale": {"domain": ["1350", "1450"], "range": ["#1050f0", "#ff0000"]}, "legend": null}
       }
      },
      {
       "data": {"values": [{"F": 37.8, "P": 25.2, "text": "solid = BG15"}, {"F": 37.8, "P": 27.9, "text": "dashed = pMELTS"}]},
       "mark": {"type": "text", "fontSize": 18, "fontStyle": "italic", "align": "right", "baseline": "middle", "color": "#262626"},
       "encoding": {"text": {"field": "text"}}
      }
     ],
     "resolve": {"axis": {"x": "independent", "y": "independent"}}
    }
   ],
   "spacing": 58,
   "bounds": "flush"
  }
 ],
 "spacing": 22
}
